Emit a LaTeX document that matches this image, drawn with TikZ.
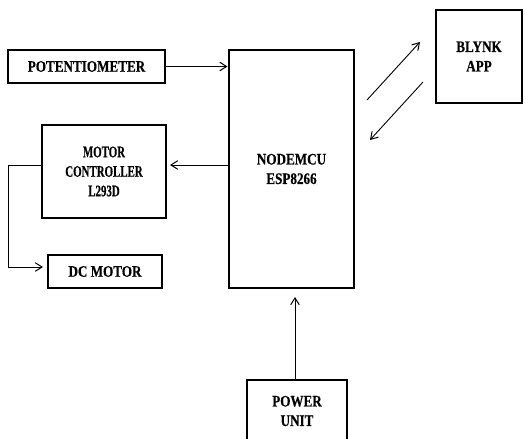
\documentclass[tikz,border=0pt]{standalone}
\usepackage{fontspec}
\setmainfont{Liberation Serif}[FakeStretch=0.82, BoldFeatures={FakeBold=0.4}]
\newfontfamily\ctrlfont{Liberation Serif}[FakeStretch=0.68, UprightFont={* Bold}, UprightFeatures={FakeBold=0.4}]
\usetikzlibrary{arrows.meta,calc}

\begin{document}
\begin{tikzpicture}[x=1pt, y=-1pt,
  blk/.style={draw=black, line width=2.6pt, align=center, inner sep=0pt, outer sep=0pt,
              font=\fontsize{16}{19.5}\selectfont\bfseries},
  arr/.style={-{Straight Barb[length=2.4mm, width=3mm, line width=1pt]}, line width=0.9pt}]
\useasboundingbox (0,0) rectangle (525,439);
\clip (0,0) rectangle (525,439);
% blocks
\node[blk, minimum width=157, minimum height=33]  (pot)   at (86.5,66.5) {POTENTIOMETER};
\node[blk, minimum width=125, minimum height=238] (mcu)   at (291.5,169) {NODEMCU\\ESP8266};
\node[blk, minimum width=86, minimum height=93]   (blynk) at (479,56.5)  {BLYNK\\APP};
\node[blk, minimum width=124, minimum height=93,
      font=\fontsize{16}{19.5}\selectfont\ctrlfont] (ctrl) at (104,171.5) {MOTOR\\CONTROLLER\\L293D};
\node[blk, minimum width=114, minimum height=33]  (motor) at (105,271.5) {DC MOTOR};
\node[blk, minimum width=100, minimum height=62, anchor=north] (power) at (297,380) {POWER\\UNIT};
% helper points
\coordinate (cr) at ([yshift=6.5pt]ctrl.east);
\coordinate (cl) at ([yshift=6.5pt]ctrl.west);
\coordinate (ml) at ([yshift=4.5pt]motor.west);
\coordinate (pw) at ([xshift=-2pt]power.north);
\coordinate (tx0) at ($(mcu.north east)+(13,50)$);
\coordinate (tx1) at ($(blynk.west)+(-16,-14.5)$);
\coordinate (rx0) at ($(blynk.west)+(-13,25.5)$);
\coordinate (rx1) at ($(mcu.north east)+(16,90)$);
% links
\draw[arr, shorten >=1.5pt] (pot.east) -- (pot.east -| mcu.west);
\draw[arr, shorten >=4pt] (cr -| mcu.west) -- (cr);
\draw[arr, line width=0.6pt, shorten >=5pt] (cl) -- ++(-34,0) |- (ml);
\draw[arr, shorten >=9pt] (pw) -- (pw |- mcu.south);
\draw[arr] (tx0) -- (tx1);
\draw[arr] (rx0) -- (rx1);
\end{tikzpicture}
\end{document}
